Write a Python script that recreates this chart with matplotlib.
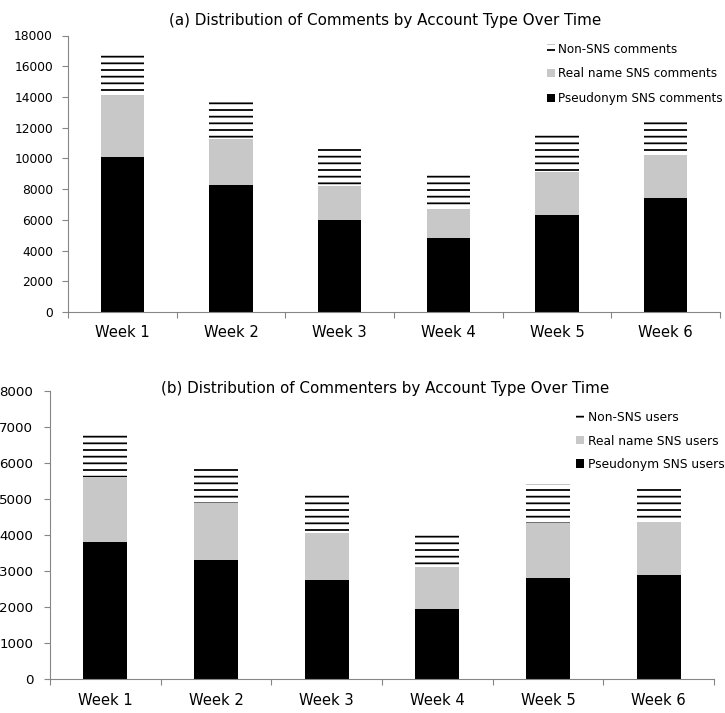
import matplotlib
matplotlib.use("Agg")
import matplotlib.pyplot as plt

weeks = ["Week 1", "Week 2", "Week 3", "Week 4", "Week 5", "Week 6"]

# comments per week, split by account type
comments_pseudonym = [10100, 8300, 6000, 4800, 6300, 7400]
comments_realname = [3950, 2950, 2200, 1900, 2800, 2850]
comments_non_sns = [2950, 2650, 2500, 2500, 2450, 2150]

# distinct commenters per week, split by account type
users_pseudonym = [3800, 3300, 2750, 1950, 2800, 2890]
users_realname = [1800, 1600, 1300, 1150, 1520, 1460]
users_non_sns = [1250, 1040, 1150, 1000, 1080, 1030]

DPI = 80
plt.rcParams["font.family"] = "DejaVu Sans"
plt.rcParams["hatch.linewidth"] = 1.6

AXIS_GRAY = "#868686"
LIGHT_GRAY = "#c8c8c8"


def draw_panel(ax, pseudo, real, non, ymax, ystep, tick_size, tick_pad):
    x = list(range(len(weeks)))
    base2 = [p + r for p, r in zip(pseudo, real)]
    b1 = ax.bar(x, pseudo, width=0.4, color="black", linewidth=0)
    b2 = ax.bar(x, real, width=0.4, bottom=pseudo, color=LIGHT_GRAY, linewidth=0)
    b3 = ax.bar(x, non, width=0.4, bottom=base2, color="white",
                edgecolor="black", hatch="--", linewidth=0)

    ax.set_xlim(-0.5, len(weeks) - 0.5)
    ax.set_ylim(0, ymax)
    ax.set_yticks(range(0, ymax + 1, ystep))
    ax.tick_params(axis="y", labelsize=tick_size, length=5, color=AXIS_GRAY,
                   width=1, pad=tick_pad)

    # category boundaries get the tick marks, week names sit between them
    ax.set_xticks([i - 0.5 for i in range(len(weeks) + 1)])
    ax.set_xticklabels([])
    ax.set_xticks(x, minor=True)
    ax.set_xticklabels(weeks, minor=True)
    ax.tick_params(axis="x", which="major", length=5, color=AXIS_GRAY, width=1)
    ax.tick_params(axis="x", which="minor", length=0, labelsize=13.3, pad=12)

    for side in ("top", "right"):
        ax.spines[side].set_visible(False)
    for side in ("left", "bottom"):
        ax.spines[side].set_color(AXIS_GRAY)
        ax.spines[side].set_linewidth(1)

    return [b3, b2, b1]


fig = plt.figure(figsize=(725 / DPI, 713 / DPI), dpi=DPI)

ax_a = fig.add_axes([68 / 725, 1 - 312 / 713, (720 - 68) / 725, (312 - 35.5) / 713])
ax_b = fig.add_axes([50 / 725, 1 - 679.3 / 713, (714 - 50) / 725, (679.3 - 390.7) / 713])

handles_a = draw_panel(ax_a, comments_pseudonym, comments_realname, comments_non_sns,
                       18000, 2000, 11, 8.5)
handles_b = draw_panel(ax_b, users_pseudonym, users_realname, users_non_sns,
                       8000, 1000, 12, 10)

fig.text(385.3 / 725, 1 - 25.5 / 713, "(a) Distribution of Comments by Account Type Over Time",
         ha="center", va="baseline", fontsize=13.6)
fig.text(385.5 / 725, 1 - 392.5 / 713, "(b) Distribution of Commenters by Account Type Over Time",
         ha="center", va="baseline", fontsize=13.6)

ax_a.legend(handles_a, ["Non-SNS comments", "Real name SNS comments", "Pseudonym SNS comments"],
            loc="upper left", bbox_to_anchor=(547 / 725, 1 - 42.6 / 713),
            bbox_transform=fig.transFigure, frameon=False, fontsize=10.8,
            handlelength=0.65, handleheight=0.65, handletextpad=0.3,
            labelspacing=0.98, borderpad=0, borderaxespad=0)
ax_b.legend(handles_b, ["Non-SNS users", "Real name SNS users", "Pseudonym SNS users"],
            loc="upper left", bbox_to_anchor=(576 / 725, 1 - 411.3 / 713),
            bbox_transform=fig.transFigure, frameon=False, fontsize=11,
            handlelength=0.65, handleheight=0.65, handletextpad=0.3,
            labelspacing=0.84, borderpad=0, borderaxespad=0)

fig.savefig("out.png", dpi=DPI)
